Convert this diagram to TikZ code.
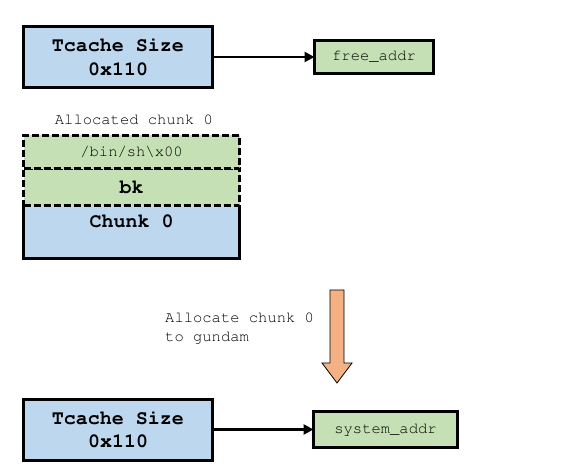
\documentclass[tikz,border=0pt]{standalone}
\usepackage[T1]{fontenc}
\usepackage{courier}
\usetikzlibrary{positioning,arrows.meta}
\definecolor{sizeblue}{HTML}{BDD7EE}
\definecolor{addrgreen}{HTML}{C5E0B4}
\definecolor{fatorange}{HTML}{F4B183}

\begin{document}
\begin{tikzpicture}[x=1pt,y=-1pt,font=\ttfamily]
    \tikzstyle{big text}=[font=\fontsize{20}{23.5}\selectfont\ttfamily\bfseries]
    \tikzstyle{small text}=[font=\fontsize{15.5}{19}\selectfont\ttfamily]
    \tikzstyle{size box}=[draw,line width=3pt,fill=sizeblue,outer sep=0,align=center,minimum width=189,minimum height=61,big text]
    \tikzstyle{addr box}=[draw,line width=3pt,fill=addrgreen,outer sep=0,minimum height=33,small text]
    \tikzstyle{dashed row}=[draw,line width=3pt,dash pattern=on 7pt off 3pt,fill=addrgreen,outer sep=0,minimum width=216]
    \tikzstyle{link}=[line width=2.8pt,-{Triangle[length=10pt,width=10pt]}]
    \tikzstyle{fat arrow}=[draw,line width=0.8pt,fill=fatorange]

    \useasboundingbox (0,0) rectangle (563,476);

    % tcache before
    \node(tc1)[size box] at (118,57) {Tcache Size\\0x110};
    \node(free)[addr box,minimum width=119] at (374,57) {free\_addr};
    \draw[link] (tc1.east) -- (free.west);

    % allocated chunk
    \node(chunk)[fill=sizeblue,outer sep=0,minimum width=216,inner ysep=0,text height=22pt,text depth=30.5pt,big text] at (131.5,232.25) {Chunk 0};
    \node(bk)[dashed row,minimum height=37,big text,above=0 of chunk] {bk};
    \node(bin)[dashed row,minimum height=33.5,small text,above=0 of bk] {/bin/sh\textbackslash x00};
    \draw[line width=3pt] (bk.south west) -- (chunk.south west) -- (chunk.south east) -- (bk.south east);
    \node(title)[small text,anchor=base] at (134,125) {Allocated chunk 0};

    % allocate step
    \draw[fat arrow] (330,290) -- (344,290) -- (344,363) -- (352,363) -- (337,383) -- (322,363) -- (330,363) -- cycle;
    \node(step note)[small text,align=left,inner sep=0,anchor=base west] at (165,341.3) {Allocate chunk 0\\to gundam};

    % tcache after
    \node(tc2)[size box] at (118,429.5) {Tcache Size\\0x110};
    \node(sys)[addr box,minimum width=144,minimum height=36] at (385.5,429.5) {system\_addr};
    \draw[link] (tc2.east) -- (sys.west);
\end{tikzpicture}
\end{document}
